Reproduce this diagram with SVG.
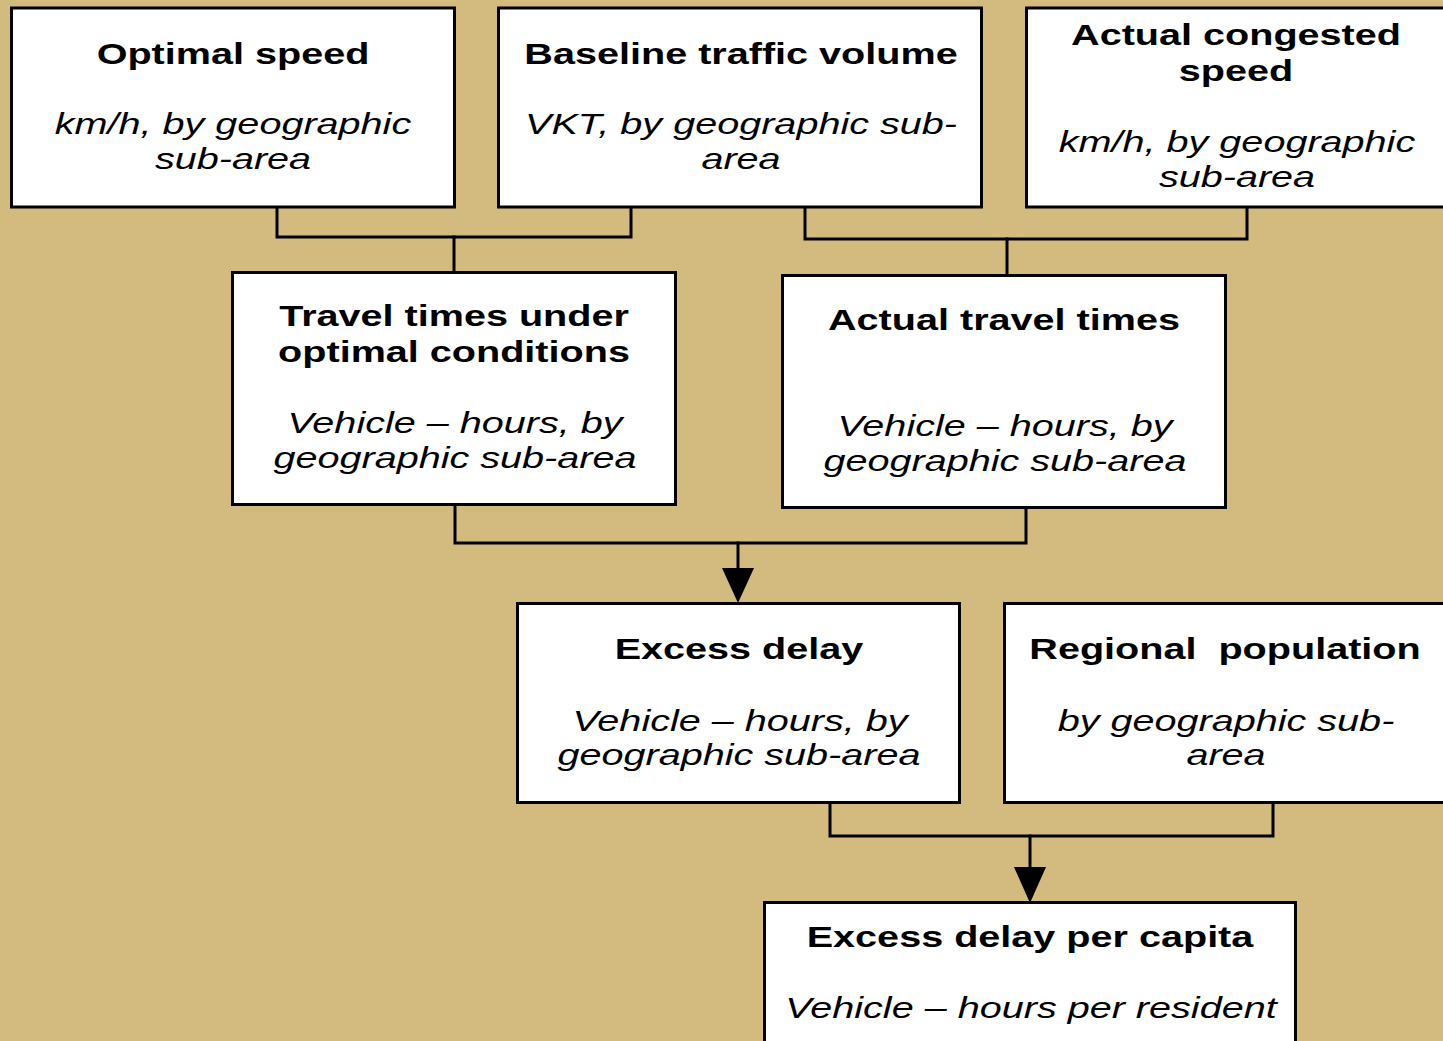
<svg xmlns="http://www.w3.org/2000/svg" width="1443" height="1041" viewBox="0 0 1443 1041">
  <defs>
    <style>
      .box { fill: #ffffff; stroke: #000000; stroke-width: 3; }
      .conn { fill: none; stroke: #000000; stroke-width: 3; stroke-linejoin: miter; stroke-linecap: square; }
      .head { fill: #000000; stroke: none; }
      text { font-family: "Liberation Sans", Arial, sans-serif; font-size: 30px; text-anchor: middle; fill: #000000; }
      .b { font-weight: bold; }
      .i { font-style: italic; }
    </style>
  </defs>
  <rect x="0" y="0" width="1443" height="1041" fill="#D3BB80"/>

  <g id="connectors">
    <path class="conn" d="M277,208 V237 H631 V208"/>
    <path class="conn" d="M454,237 V272"/>
    <path class="conn" d="M805,208 V239 H1247 V208"/>
    <path class="conn" d="M1007,239 V275"/>
    <path class="conn" d="M455,505 V543 H1026 V508"/>
    <path class="conn" d="M738,543 V570"/>
    <polygon class="head" points="722,568 754,568 738,603"/>
    <path class="conn" d="M830,803 V836 H1273 V803"/>
    <path class="conn" d="M1030,836 V869"/>
    <polygon class="head" points="1014,867 1046,867 1030,903"/>
  </g>

  <g id="optimal-speed">
    <rect class="box" x="11.5" y="8" width="443" height="199"/>
    <text class="b" transform="translate(233,64) scale(1.32,1)">Optimal speed</text>
    <text class="i" transform="translate(233,134) scale(1.32,1)">km/h, by geographic</text>
    <text class="i" transform="translate(233,169) scale(1.32,1)">sub-area</text>
  </g>

  <g id="baseline-traffic-volume">
    <rect class="box" x="498.5" y="8" width="483" height="199"/>
    <text class="b" transform="translate(741,64) scale(1.32,1)">Baseline traffic volume</text>
    <text class="i" transform="translate(741,134) scale(1.32,1)">VKT, by geographic sub-</text>
    <text class="i" transform="translate(741,169) scale(1.32,1)">area</text>
  </g>

  <g id="actual-congested-speed">
    <rect class="box" x="1026.5" y="8" width="430" height="199"/>
    <text class="b" transform="translate(1236,45) scale(1.32,1)">Actual congested</text>
    <text class="b" transform="translate(1236,81) scale(1.32,1)">speed</text>
    <text class="i" transform="translate(1237,152) scale(1.32,1)">km/h, by geographic</text>
    <text class="i" transform="translate(1237,187) scale(1.32,1)">sub-area</text>
  </g>

  <g id="travel-times-optimal">
    <rect class="box" x="232.5" y="272.5" width="443" height="232"/>
    <text class="b" transform="translate(454,326) scale(1.32,1)">Travel times under</text>
    <text class="b" transform="translate(454,362) scale(1.32,1)">optimal conditions</text>
    <text class="i" transform="translate(455,433) scale(1.32,1)">Vehicle – hours, by</text>
    <text class="i" transform="translate(455,468) scale(1.32,1)">geographic sub-area</text>
  </g>

  <g id="actual-travel-times">
    <rect class="box" x="782.5" y="275.5" width="443" height="232"/>
    <text class="b" transform="translate(1004,330) scale(1.32,1)">Actual travel times</text>
    <text class="i" transform="translate(1005,436) scale(1.32,1)">Vehicle – hours, by</text>
    <text class="i" transform="translate(1005,471) scale(1.32,1)">geographic sub-area</text>
  </g>

  <g id="excess-delay">
    <rect class="box" x="517.5" y="603.5" width="442" height="199"/>
    <text class="b" transform="translate(739,659) scale(1.32,1)">Excess delay</text>
    <text class="i" transform="translate(740,731) scale(1.32,1)">Vehicle – hours, by</text>
    <text class="i" transform="translate(739,765) scale(1.32,1)">geographic sub-area</text>
  </g>

  <g id="regional-population">
    <rect class="box" x="1004.5" y="603.5" width="450" height="199"/>
    <text class="b" xml:space="preserve" transform="translate(1225,659) scale(1.32,1)">Regional  population</text>
    <text class="i" transform="translate(1226,731) scale(1.32,1)">by geographic sub-</text>
    <text class="i" transform="translate(1226,765) scale(1.32,1)">area</text>
  </g>

  <g id="excess-delay-per-capita">
    <rect class="box" x="764.5" y="902.5" width="531" height="150"/>
    <text class="b" transform="translate(1030,947) scale(1.32,1)">Excess delay per capita</text>
    <text class="i" transform="translate(1031,1018) scale(1.32,1)">Vehicle – hours per resident</text>
  </g>
</svg>
